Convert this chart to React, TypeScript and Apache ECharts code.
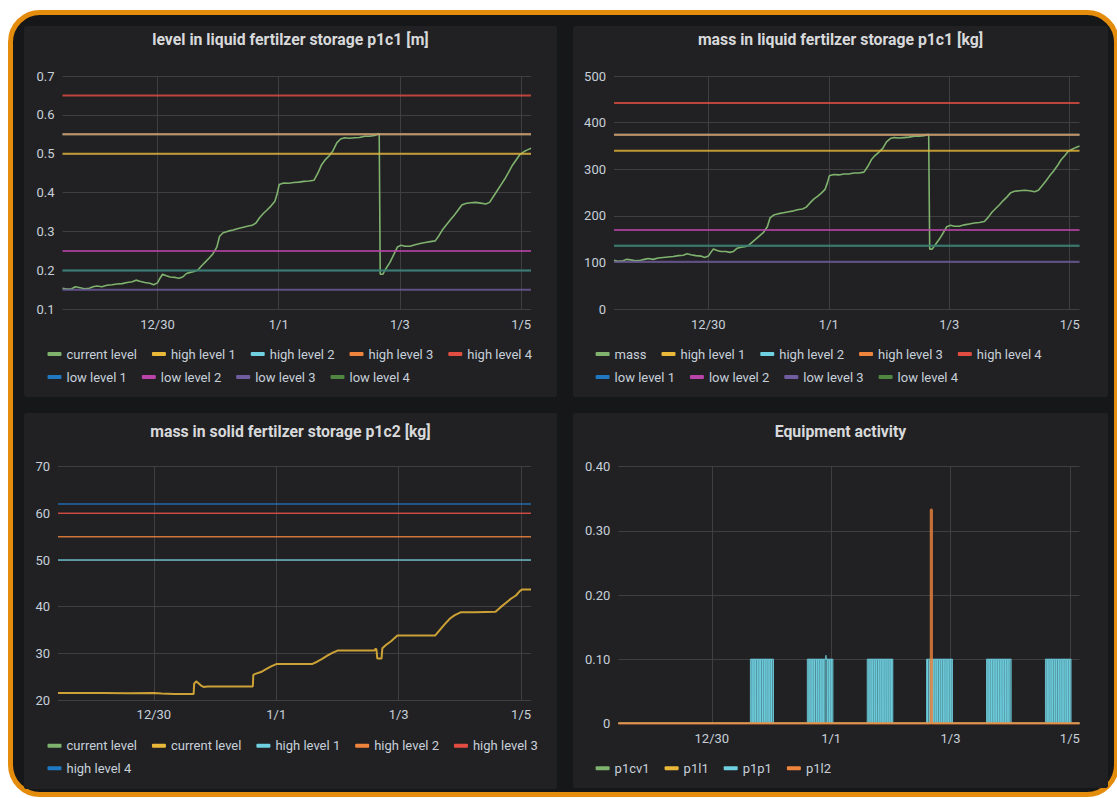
import React, { useEffect, useRef } from "react";
import * as echarts from "echarts";

// ---------- colours ----------
const C_GREEN = "#7EB26D";
const C_YELLOW = "#EAB839";
const C_CYAN = "#6ED0E0";
const C_ORANGE = "#EF843C";
const C_RED = "#E24D42";
const C_BLUE = "#1F78C1";
const C_MAGENTA = "#BA43A9";
const C_PURPLE = "#705DA0";
const C_DKGREEN = "#508642";
const GRID = "#3f3f42";
const TXT = "#c7d0d9";
const PANEL_BG = "#212124";
const FONT = "Roboto";

// ---------- x axis (hours from 12/30 00:00) ----------
const X_MIN = -37.6;
const X_MAX = 147.9;
const tickHours = [0, 48, 96, 144];
const tickLabels = ["12/30", "1/1", "1/3", "1/5"];

// ---------- liquid storage (level [m] and mass [kg]) ----------
const levelTimes = [
  -37.6, -36, -34, -32.5, -31, -29, -27, -25.5, -24, -22, -20, -18, -16, -14, -12, -10, -8.5, -7, -5, -3, -1.5,
  0, 1, 2, 3.5, 5, 7, 8.5, 10, 11.5, 13, 14.5, 16, 17.5, 19, 20.5, 22, 23.5, 24.6, 26, 28, 30, 32, 34, 36, 37.5,
  39, 40.5, 42, 43.5, 45, 46.5, 47.5, 48.2, 50, 52, 54, 56, 58, 60, 62, 63.5, 65, 66.5, 68, 69.5, 71, 72.5, 74,
  76, 78, 80, 82, 84, 86, 87.8, 88.2, 89.2, 90.5, 92, 93.5, 95, 96.5, 98, 100, 102, 104, 106, 108, 110, 111.5,
  113, 114.5, 116, 117.5, 119, 120.5, 122, 124, 126, 128, 130, 131.5, 133, 134.5, 136, 137.5, 139, 140.5, 142,
  143.5, 145, 146.5, 147.9,
];
const levelValues = [
  0.154, 0.152, 0.153, 0.158, 0.156, 0.153, 0.154, 0.158, 0.16, 0.158, 0.162, 0.163, 0.165, 0.166, 0.169, 0.171,
  0.175, 0.172, 0.169, 0.167, 0.163,
  0.168, 0.18, 0.19, 0.186, 0.183, 0.182, 0.18, 0.183, 0.192, 0.195, 0.197, 0.201, 0.212, 0.222, 0.232, 0.243,
  0.26, 0.288, 0.297, 0.301, 0.304, 0.308, 0.311, 0.314, 0.316,
  0.322, 0.336, 0.347, 0.356, 0.366, 0.378, 0.4, 0.421, 0.425, 0.424, 0.426, 0.427, 0.429, 0.43, 0.432, 0.45,
  0.472, 0.485, 0.495, 0.508, 0.528, 0.538, 0.541,
  0.54, 0.541, 0.542, 0.545, 0.545, 0.547, 0.552, 0.19, 0.19, 0.205, 0.22, 0.24, 0.26, 0.265, 0.262, 0.262,
  0.266, 0.269, 0.272, 0.274, 0.276, 0.29,
  0.306, 0.318, 0.33, 0.342, 0.355, 0.368, 0.372, 0.374, 0.375, 0.373, 0.371, 0.375, 0.39, 0.405, 0.42, 0.435,
  0.452, 0.47, 0.484,
  0.498, 0.505, 0.51, 0.514,
];
const massValues = [
  105, 103, 104, 107, 106, 104, 105, 107, 109, 107, 110, 111, 112, 113, 115, 116, 119, 117, 115, 114, 111,
  114, 122, 129, 126, 124, 124, 122, 124, 131, 133, 134, 137, 144, 151, 158, 165, 177, 196, 202, 205, 207, 209,
  211, 214, 215,
  219, 228, 236, 242, 249, 257, 272, 286, 289, 288, 290, 290, 292, 292, 294, 306, 321, 330, 337, 345, 359, 366,
  368,
  367, 368, 369, 371, 371, 372, 375, 129, 129, 139, 150, 163, 177, 180, 178, 178, 181, 183, 185, 186, 188, 197,
  208, 216, 224, 233, 241, 250, 253, 254, 255, 254, 252, 255, 265, 275, 286, 296, 307, 320, 329,
  339, 343, 347, 350,
];

const liquidThresholdNames = [
  "high level 1", "high level 2", "high level 3", "high level 4",
  "low level 1", "low level 2", "low level 3", "low level 4",
];
const liquidThresholdColors = [C_YELLOW, C_CYAN, C_ORANGE, C_RED, C_BLUE, C_MAGENTA, C_PURPLE, C_DKGREEN];
const liquidThresholdOpacity = [0.8, 0.8, 0.7, 0.8, 0.8, 0.8, 0.8, 0.6];
const levelThresholdValues = [0.5, 0.55, 0.55, 0.65, 0.2, 0.25, 0.15, 0.2];
const massThresholdValues = [340, 374, 374, 442, 136, 170, 102, 136];

// ---------- solid storage ----------
const solidTimes = [
  -37.6, -30, -20, -10, 0, 3, 8, 15.6, 15.8, 16.6, 17.5, 18.5, 19.5, 21, 30, 38.8, 39.0, 39.8, 42, 44, 46, 48,
  55, 62, 64, 66, 68, 70, 72, 80, 86.5, 87, 87.3, 87.6, 89.3, 89.6, 91, 93, 95.5, 100, 105, 110.3, 112, 114,
  116, 118, 120.3, 126, 134, 136, 138, 140, 142, 143.6, 144.5, 147.9,
];
const solidValues = [
  21.5, 21.5, 21.5, 21.45, 21.5, 21.4, 21.3, 21.3, 23.5, 24.0, 23.6, 23.1, 22.8, 22.9, 22.9, 22.9, 25.4, 25.6,
  26.0, 26.6, 27.2, 27.7, 27.7, 27.7, 28.2, 28.8, 29.5, 30.1, 30.6, 30.6, 30.6, 31.0, 30.8, 28.9, 28.9, 31.1,
  31.8, 32.6, 33.8, 33.8, 33.8, 33.8, 34.9, 36.2, 37.4, 38.2, 38.8, 38.8, 38.9, 39.9, 40.8, 41.7, 42.4, 43.4,
  43.7, 43.7,
];
const solidThresholdNames = ["high level 1", "high level 2", "high level 3", "high level 4"];
const solidThresholdColors = [C_CYAN, C_ORANGE, C_RED, C_BLUE];
const solidThresholdValues = [50, 55, 60, 62];

// ---------- equipment activity ----------
const equipmentNames = ["p1cv1", "p1l1", "p1p1", "p1l2"];
const equipmentColors = [C_GREEN, C_YELLOW, C_CYAN, C_ORANGE];
const pumpLevel = 0.1;
const pumpStarts = [15.5, 38.4, 62.5, 86.4, 110.5, 134.2];
const pumpEnds = [24.8, 48.7, 72.8, 96.8, 120.4, 144.5];
const pumpDips = [
  [16.2, 16.9, 17.5, 18.3, 19.0, 19.6, 20.4, 21.1, 21.8, 22.6, 23.3, 24.0],
  [39.1, 39.9, 40.6, 41.3, 42.1, 42.8, 43.6, 44.3, 45.0, 46.6, 47.3, 48.0],
  [63.2, 64.0, 64.7, 65.5, 66.2, 67.0, 67.7, 68.5, 69.2, 70.0, 70.8, 71.6, 72.3],
  [86.7, 87.6, 88.6, 89.3, 90.1, 90.8, 91.6, 92.3, 93.1, 93.8, 94.6, 95.3, 96.1],
  [111.1, 111.8, 112.5, 113.2, 113.9, 114.6, 115.3, 116.0, 116.7, 117.4, 118.1, 118.8, 119.5],
  [134.9, 135.6, 136.4, 137.1, 137.9, 138.6, 139.4, 140.1, 140.9, 141.6, 142.4, 143.1, 143.8],
];
const pumpBlip = [45.9, 0.106];
const valveSpikeStart = 88.1;
const valveSpikeEnd = 88.5;
const valveSpikeValue = 0.333;

// ---------- builders ----------
function buildXAxis(margin: number) {
  return {
    type: "value",
    min: X_MIN,
    max: X_MAX,
    minInterval: 48,
    maxInterval: 48,
    axisLine: { show: false },
    axisTick: { show: false },
    axisLabel: {
      color: TXT,
      fontSize: 13,
      fontFamily: FONT,
      margin,
      showMinLabel: false,
      showMaxLabel: false,
      formatter: (v: number) => {
        const i = tickHours.indexOf(Math.round(v * 100) / 100);
        return i >= 0 ? tickLabels[i] : "";
      },
    },
    splitLine: { show: true, showMinLine: false, showMaxLine: false, lineStyle: { color: GRID, width: 1 } },
  };
}

function buildYAxis(min: number, max: number, interval: number, formatter: (v: number) => string) {
  return {
    type: "value",
    min,
    max,
    interval,
    axisLine: { show: false },
    axisTick: { show: false },
    axisLabel: { color: TXT, fontSize: 13, fontFamily: FONT, margin: 8, formatter },
    splitLine: { show: true, lineStyle: { color: GRID, width: 1 } },
  };
}

function legendRow(names: string[], top: number, left: number) {
  return {
    data: names,
    top,
    left,
    orient: "horizontal",
    icon: "roundRect",
    itemWidth: 14,
    itemHeight: 4,
    itemGap: 15,
    padding: 0,
    selectedMode: false,
    itemStyle: { borderWidth: 0 },
    textStyle: { color: TXT, fontSize: 13, fontFamily: FONT },
    formatter: (n: string) => n.replace(/#\d+$/, ""),
  };
}

function titleOf(text: string, top: number) {
  return {
    text,
    left: "center",
    top,
    padding: 0,
    textStyle: { color: "#d8d9da", fontSize: 15.8, fontWeight: "bold", fontFamily: FONT },
  };
}

function zip(xs: number[], ys: number[]) {
  return xs.map((x, i) => [x, ys[i]]);
}

function constLine(name: string, value: number, color: string, width: number, opacity: number) {
  return {
    name,
    type: "line",
    color,
    data: [
      [X_MIN, value],
      [X_MAX, value],
    ],
    showSymbol: false,
    clip: false,
    lineStyle: { width, opacity },
    silent: true,
  };
}

function mainLine(name: string, data: number[][], color: string, width: number, opacity = 1) {
  return {
    name,
    type: "line",
    color,
    data,
    showSymbol: false,
    lineStyle: { width, opacity },
    silent: true,
  };
}

// ---------- options ----------
const levelOption = {
  animation: false,
  backgroundColor: PANEL_BG,
  title: titleOf("level in liquid fertilzer storage p1c1 [m]", 5.5),
  grid: { left: 38.5, right: 26, top: 50, bottom: 87.7 },
  xAxis: buildXAxis(9),
  yAxis: buildYAxis(0.1, 0.7, 0.1, (v) => v.toFixed(1)),
  legend: [
    legendRow(["current level", ...liquidThresholdNames.slice(0, 4)], 321.5, 23.5),
    legendRow(liquidThresholdNames.slice(4), 344.5, 23.5),
  ],
  series: [
    mainLine("current level", zip(levelTimes, levelValues), C_GREEN, 1.6),
    ...liquidThresholdNames.map((n, i) =>
      constLine(n, levelThresholdValues[i], liquidThresholdColors[i], 2, liquidThresholdOpacity[i])
    ),
  ],
};

const massOption = {
  animation: false,
  backgroundColor: PANEL_BG,
  title: titleOf("mass in liquid fertilzer storage p1c1 [kg]", 5.5),
  grid: { left: 41, right: 28.5, top: 50, bottom: 87.7 },
  xAxis: buildXAxis(9),
  yAxis: buildYAxis(0, 500, 100, (v) => String(v)),
  legend: [
    legendRow(["mass", ...liquidThresholdNames.slice(0, 4)], 321.5, 22.6),
    legendRow(liquidThresholdNames.slice(4), 344.5, 22.6),
  ],
  series: [
    mainLine("mass", zip(levelTimes, massValues), C_GREEN, 1.6),
    ...liquidThresholdNames.map((n, i) =>
      constLine(n, massThresholdValues[i], liquidThresholdColors[i], 2, liquidThresholdOpacity[i])
    ),
  ],
};

const solidOption = {
  animation: false,
  backgroundColor: PANEL_BG,
  title: titleOf("mass in solid fertilzer storage p1c2 [kg]", 10.5),
  grid: { left: 34, right: 26, top: 53.7, bottom: 89 },
  xAxis: buildXAxis(8),
  yAxis: buildYAxis(20, 70, 10, (v) => String(v)),
  legend: [
    legendRow(["current level", "current level#2", ...solidThresholdNames.slice(0, 3)], 326.2, 23.5),
    legendRow(solidThresholdNames.slice(3), 348.8, 23.5),
  ],
  series: [
    mainLine("current level", [], C_GREEN, 1.5),
    mainLine("current level#2", zip(solidTimes, solidValues), C_YELLOW, 2, 0.85),
    ...solidThresholdNames.map((n, i) => constLine(n, solidThresholdValues[i], solidThresholdColors[i], 1.5, 0.85)),
  ],
};

const pumpData: number[][] = [[X_MIN, 0]];
pumpStarts.forEach((s, i) => {
  pumpData.push([s, 0], [s, pumpLevel]);
  pumpDips[i].forEach((d) => {
    pumpData.push([d, pumpLevel], [d, 0], [d + 0.04, 0], [d + 0.04, pumpLevel]);
  });
  pumpData.push([pumpEnds[i], pumpLevel], [pumpEnds[i], 0]);
});
pumpData.push([pumpBlip[0] - 0.05, pumpLevel], [pumpBlip[0], pumpBlip[1]], [pumpBlip[0] + 0.05, pumpLevel]);
pumpData.push([X_MAX, 0]);
pumpData.sort((a, b) => a[0] - b[0]);

const valveData = [
  [X_MIN, 0],
  [valveSpikeStart, 0],
  [valveSpikeStart, valveSpikeValue],
  [valveSpikeEnd, valveSpikeValue],
  [valveSpikeEnd, 0],
  [X_MAX, 0],
];

const equipmentOption = {
  animation: false,
  backgroundColor: PANEL_BG,
  title: titleOf("Equipment activity", 10.5),
  grid: { left: 45.4, right: 28.5, top: 53.7, bottom: 64.7 },
  xAxis: buildXAxis(9),
  yAxis: buildYAxis(0, 0.4, 0.1, (v) => (v === 0 ? "0" : v.toFixed(2))),
  legend: [legendRow(equipmentNames, 348.8, 22.6)],
  series: [
    constLine(equipmentNames[0], 0, equipmentColors[0], 1.5, 1),
    constLine(equipmentNames[1], 0, equipmentColors[1], 1.5, 0.7),
    {
      name: equipmentNames[2],
      type: "line",
      color: equipmentColors[2],
      data: pumpData,
      showSymbol: false,
      clip: false,
      lineStyle: { width: 1, opacity: 0.85 },
      areaStyle: { opacity: 0.6 },
      silent: true,
    },
    {
      name: equipmentNames[3],
      type: "line",
      color: equipmentColors[3],
      data: valveData,
      showSymbol: false,
      clip: false,
      lineStyle: { width: 2.2, opacity: 0.8 },
      silent: true,
    },
  ],
};

// ---------- components ----------
function Panel({ left, top, width, height, option }: any) {
  const ref = useRef<HTMLDivElement>(null);
  useEffect(() => {
    const chart = echarts.init(ref.current as HTMLDivElement, null, { renderer: "svg" });
    chart.setOption(option);
    return () => chart.dispose();
  }, []);
  return (
    <div
      ref={ref}
      style={{
        position: "absolute",
        left,
        top,
        width,
        height,
        borderRadius: 3,
        overflow: "hidden",
        background: PANEL_BG,
      }}
    />
  );
}

export default function App() {
  return (
    <div
      style={{
        position: "fixed",
        left: 0,
        top: 0,
        width: 1117,
        height: 798,
        background: "#ffffff",
        overflow: "hidden",
      }}
    >
      <div
        style={{
          position: "absolute",
          left: 8,
          top: 10,
          width: 1111,
          height: 787,
          boxSizing: "border-box",
          border: "5px solid #E48C0C",
          borderRadius: 32,
          background: "#161719",
        }}
      />
      <Panel left={24} top={26} width={533} height={371} option={levelOption} />
      <Panel left={573} top={26} width={535} height={371} option={massOption} />
      <Panel left={24} top={413} width={533} height={376} option={solidOption} />
      <Panel left={573} top={413} width={535} height={375} option={equipmentOption} />
    </div>
  );
}
